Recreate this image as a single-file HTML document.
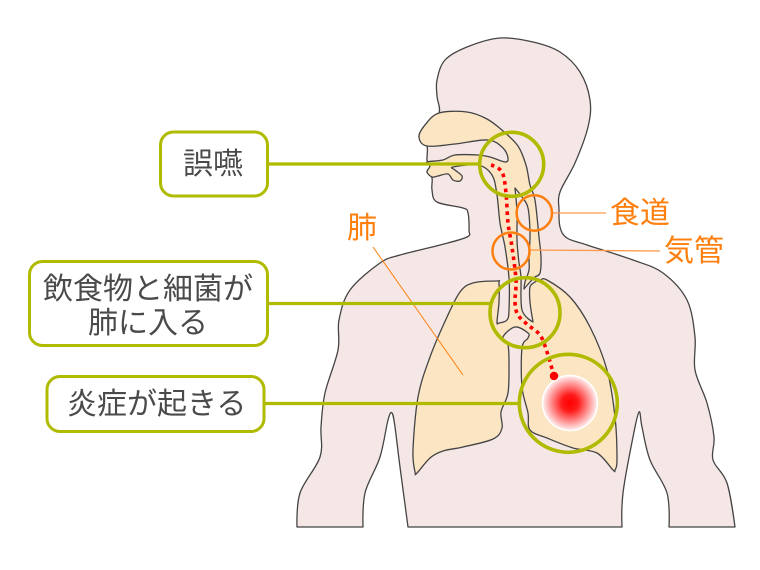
<!DOCTYPE html>
<html>
<head>
<meta charset="utf-8">
<style>
html,body{margin:0;padding:0;background:#fff;width:760px;height:570px;overflow:hidden}
svg{display:block}
text{font-family:"Liberation Sans","Noto Sans CJK JP",sans-serif;font-size:30px}
.k{fill:#4a4a4a}
.o{fill:#ff7f0e}
</style>
</head>
<body>
<svg width="760" height="570" viewBox="0 0 760 570" xmlns="http://www.w3.org/2000/svg">
<defs>
<radialGradient id="g">
<stop offset="0" stop-color="#ff0000"/>
<stop offset="0.3" stop-color="#ff1a1a"/>
<stop offset="1" stop-color="#fff2f2"/>
</radialGradient>
</defs>
<path id="body" fill="#f6e7e7" stroke="#444" stroke-width="1.3" stroke-linejoin="round" d="M439 113L437 80L467 47L500 38L560 52L590 100L560 192L560 227L587 245L663 273L695 337L714 437L735 527L669 527L650 460L639 412L622 527L408 527L392 413L363 527L297 527L321 427L339 320L380 263L467 237L468 213L437 202L432 178L427 146L419 137Z"/>
<path id="peach" fill="#fbe5c3" stroke="#444" stroke-width="1.3" stroke-linejoin="round" d="M439 113L487 119L530 185L541 257L524 289L528 208L515 188L521 277L533 322L540 280L590 327L617 460L597 453L530 430L522 348L515 327L509 363L493 439L417 473L447 317L497 281L497 322L509 310L497 195L478 165L432 177L443 160L505 162L488 140L427 146L419 137Z"/>

<line x1="552" y1="213" x2="606" y2="213" stroke="#ff9a4a" stroke-width="1.3"/>
<line x1="530" y1="250" x2="660" y2="251" stroke="#ff9a4a" stroke-width="1.3"/>
<line x1="373" y1="247" x2="463" y2="375" stroke="#ff7f0e" stroke-width="1"/>

<circle cx="570" cy="403" r="27.5" fill="url(#g)" stroke="#ffffff" stroke-width="1.5"/>

<path id="dots" fill="none" stroke="#ff0000" stroke-width="3.6" stroke-dasharray="3.6 4" d="M491 165L502 172L506 193L508 223L512 247L516 280L515 302L518 315L528 325L540 335L547 352L554 376"/>
<circle cx="554" cy="376" r="4.2" fill="#ff0000"/>

<circle cx="534.3" cy="213" r="17.7" fill="none" stroke="#ff7f0e" stroke-width="2.5"/>
<circle cx="511" cy="251" r="18.5" fill="none" stroke="#ff7f0e" stroke-width="2.5"/>

<g stroke="#b0bb00" fill="none">
<line x1="267" y1="164" x2="480" y2="164" stroke-width="3.2"/>
<line x1="267" y1="303.500" x2="490" y2="303.500" stroke-width="3.2"/>
<line x1="264" y1="403.500" x2="519" y2="403.500" stroke-width="3.2"/>
<circle cx="511.700" cy="164.300" r="32" stroke-width="3.6"/>
<circle cx="525" cy="312.700" r="35" stroke-width="3.6"/>
<circle cx="568.300" cy="403.300" r="49" stroke-width="3.6"/>
<rect x="160.500" y="132" width="107" height="64" rx="13" fill="#fff" stroke-width="3"/>
<rect x="29.500" y="261.500" width="238" height="84" rx="13" fill="#fff" stroke-width="3"/>
<rect x="47" y="376.500" width="217" height="55" rx="13" fill="#fff" stroke-width="3"/>
</g>

<text class="k" x="183" y="174">誤嚥</text>
<text class="k" x="43" y="299">飲食物と細菌が</text>
<text class="k" x="88" y="333">肺に入る</text>
<text class="k" x="67" y="414">炎症が起きる</text>
<text class="o" x="347" y="238">肺</text>
<text class="o" x="610" y="223">食道</text>
<text class="o" x="664" y="261">気管</text>
</svg>
<script>
function smooth(pts,closed){
  var n=pts.length,d="M"+pts[0][0]+" "+pts[0][1];
  function p(i){return closed?pts[(i+n)%n]:pts[Math.max(0,Math.min(n-1,i))];}
  function same(u,v){return u[0]===v[0]&&u[1]===v[1];}
  var end=closed?n:n-1;
  for(var i=0;i<end;i++){
    var a=p(i-1),b=p(i),c=p(i+1),e=p(i+2);
    if(same(b,c)){continue;}
    var c1=same(a,b)?b:[b[0]+(c[0]-a[0])/6,b[1]+(c[1]-a[1])/6];
    var c2=same(c,e)?c:[c[0]-(e[0]-b[0])/6,c[1]-(e[1]-b[1])/6];
    d+="C"+c1[0].toFixed(1)+" "+c1[1].toFixed(1)+" "+c2[0].toFixed(1)+" "+c2[1].toFixed(1)+" "+c[0]+" "+c[1];
  }
  return d+(closed?"Z":"");
}
function parse(s){return s.trim().split(/\s+/).map(function(t){return t.split(",").map(Number);});}
document.getElementById("body").setAttribute("d",smooth(parse(
"439,113 437,96 437,80 445,60 467,47 500,38 533,42 560,52 580,72 590,100 588,127 575,163 560,192 559,210 560,227 567,238 587,245 633,260 663,273 687,300 695,337 695,370 707,403 714,437 713,460 727,483 735,527 735,527 669,527 669,527 667,493 650,460 642,427 639,412 633,437 623,493 622,527 622,527 408,527 408,527 400,467 395,427 392,413 388,420 380,457 365,493 363,527 363,527 297,527 297,527 300,493 320,457 321,427 325,393 338,350 339,320 350,290 380,263 400,255 440,245 467,237 469,230 468,213 463,208 437,202 432,190 432,178 427,172 430,166 427,160 427,146 419,137 425,125"),true));
document.getElementById("peach").setAttribute("d",smooth(parse(
"439,113 467,112 487,119 503,131 518,146 526,165 530,185 535,200 539,237 541,257 540,273 535,277 530,282 524,289 524,289 525,282 529,270 529,257 530,233 528,208 522,197 515,188 515,188 517,213 517,240 519,263 521,277 522,310 533,322 533,322 530,302 530,287 535,282 540,280 547,280 570,297 590,327 607,370 615,417 617,460 615,470 613,470 597,453 573,448 547,438 530,430 528,413 522,387 522,348 528,338 528,333 515,327 503,337 508,345 509,363 508,393 501,412 502,428 493,439 463,447 443,451 430,458 417,473 415,472 413,450 418,397 430,357 447,317 460,292 473,283 497,281 499,283 499,302 497,322 499,323 507,320 509,310 509,278 505,247 500,223 497,195 492,175 478,165 453,167 455,170 462,176 460,181 453,180 448,174 438,176 432,177 427,172 430,166 427,162 443,160 455,155 478,155 490,157 505,162 508,158 503,148 488,140 455,144 427,146 419,137 425,125"),true));
document.getElementById("dots").setAttribute("d",smooth(parse(
"491,165 502,172 506,193 508,223 512,247 516,280 515,302 518,315 528,325 540,335 547,352 554,376"),false));
</script>
</body>
</html>
